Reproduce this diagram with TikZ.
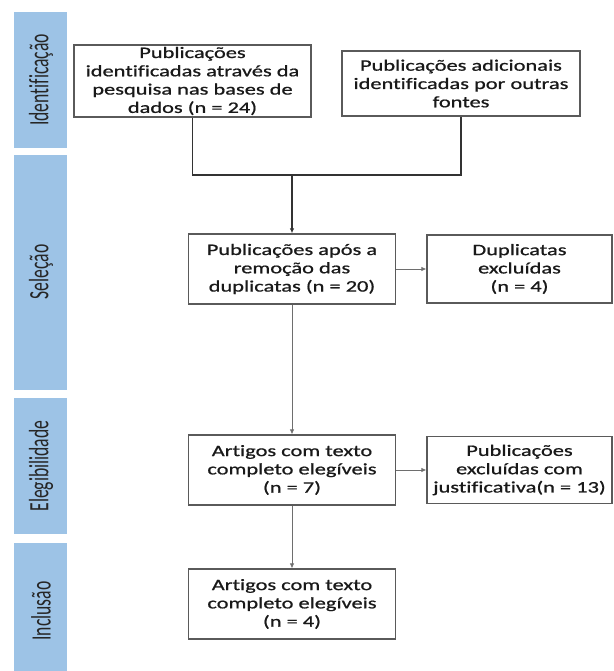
\documentclass[tikz,border=0pt]{standalone}
\usepackage{fontspec}
\setmainfont{Carlito}
\newfontfamily\boxfont{Carlito}[FakeStretch=1.4, FakeBold=0.8, Ligatures=NoCommon]
\newfontfamily\barfont{Carlito}[FakeStretch=0.63, Ligatures=NoCommon]
\usetikzlibrary{arrows.meta}
\definecolor{barblue}{RGB}{157,195,230}
\definecolor{boxline}{RGB}{90,90,90}
\definecolor{thinline}{RGB}{110,110,110}
\tikzset{
  stagebar/.style={fill=barblue, draw=none},
  stagelabel/.style={rotate=90, inner sep=0pt, text=black!85,
     font=\barfont\fontsize{28}{32}\selectfont},
  flowbox/.style={draw=boxline, line width=1.3pt, fill=white, align=center,
     inner sep=2pt, text=black!90,
     font=\boxfont\fontsize{16}{18.3}\selectfont},
  mainline/.style={draw=black!80, line width=1.3pt},
  subline/.style={draw=thinline, line width=0.8pt},
  tip/.style={-{Latex[length=5pt,width=4.5pt]}}
}
\begin{document}
\begin{tikzpicture}[x=1pt,y=-1pt]
\useasboundingbox (0,0) rectangle (613,671);
% stage bars
\fill[stagebar] (14,12) rectangle (67,148);
\fill[stagebar] (14,155) rectangle (67,390);
\fill[stagebar] (14,398) rectangle (67,534);
\fill[stagebar] (14,543) rectangle (67,680);
\node[stagelabel] (lid) at (41,80) {Identificação};
\node[stagelabel] (lsel) at (41,272) {Seleção};
\node[stagelabel] (lele) at (41,466) {Elegibilidade};
\node[stagelabel] (linc) at (41,611) {Inclusão};
% boxes
\node[flowbox, minimum width=237pt, minimum height=70pt] (b1) at (192.5,81)
  {Publicações\\identificadas através da\\pesquisa nas bases de\\dados (n = 24)};
\node[flowbox, minimum width=238pt, minimum height=65pt] (b2) at (461,83.5)
  {Publicações adicionais\\identificadas por outras\\fontes};
\node[flowbox, minimum width=207pt, minimum height=70pt] (b3) at (292,269)
  {Publicações após a\\remoção das\\duplicatas (n = 20)};
\node[flowbox, minimum width=185pt, minimum height=68pt] (b4) at (519.5,269)
  {Duplicatas\\excluídas\\(n = 4)};
\node[flowbox, minimum width=207pt, minimum height=70pt] (b5) at (292,470)
  {Artigos com texto\\completo elegíveis\\(n = 7)};
\node[flowbox, minimum width=185pt, minimum height=67pt] (b6) at (519.5,470)
  {Publicações\\excluídas com\\justificativa(n = 13)};
\node[flowbox, minimum width=207pt, minimum height=70pt] (b7) at (292,604)
  {Artigos com texto\\completo elegíveis\\(n = 4)};
% connectors
\coordinate (j1) at (192.5,175);
\coordinate (j2) at (461,175);
\coordinate (j) at (292,175);
\draw[mainline] (b1.south) -- (j1) -- (j2) -- (b2.south);
\draw[mainline, tip] (j) -- (b3.north);
\draw[subline, tip] (b3.east) -- (b4.west);
\draw[subline, tip] (b3.south) -- (b5.north);
\draw[subline, tip] (b5.east) -- (b6.west);
\draw[subline, tip] (b5.south) -- (b7.north);
\end{tikzpicture}
\end{document}
